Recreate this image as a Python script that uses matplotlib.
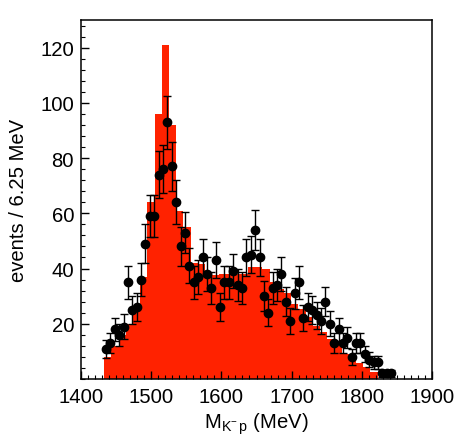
import numpy as np
import matplotlib
matplotlib.use('Agg')
import matplotlib.pyplot as plt
from matplotlib.ticker import MultipleLocator

plt.rcParams['font.family'] = ['Liberation Sans', 'DejaVu Sans']
plt.rcParams['mathtext.fontset'] = 'custom'
plt.rcParams['mathtext.rm'] = 'Liberation Sans'
plt.rcParams['mathtext.it'] = 'Liberation Sans'

# MC histogram (red), ~10.25 MeV bins starting at 1433 MeV
hist_start = 1433.0
hist_width = 10.25
hist_vals = [8, 12, 16, 20, 25, 37, 64, 96, 121, 92,
             61, 55, 42, 41.5, 37.5, 37.5, 38, 38, 38, 38,
             40.5, 40.5, 40, 35, 32.6, 31, 27, 25.4, 22.4, 19.3,
             17, 14.5, 12.7, 9, 7.5, 5.8, 4.3, 2.5]

# data points, 6.25 MeV bins
data_start = 1435.6
data_width = 6.25
data_vals = [11, 13, 18, 16, 19, 35, 25, 26, 36, 49,
             59, 59, 74, 76, 93, 77, 64, 48, 53, 41,
             35, 37, 44, 38, 33, 43, 26, 35, 35, 39,
             34, 33, 44, 45, 54, 44, 30, 24, 33, 34,
             38, 28, 21, 31, 35, 22, 26, 25, 23, 21,
             28, 20, 13, 18, 13, 15, 8, 13, 13, 9,
             7, 6, 6, 2, 2, 2]
data_err = [3.3, 3.6, 4.2, 4.0, 4.4, 5.9, 5.0, 5.1, 6.0, 7.0,
            7.7, 7.7, 8.6, 8.7, 9.6, 8.8, 8.0, 6.9, 7.3, 6.4,
            5.9, 6.1, 6.6, 6.2, 5.7, 6.6, 5.1, 5.9, 5.9, 6.2,
            5.8, 5.7, 6.6, 6.7, 7.3, 6.6, 5.5, 4.9, 5.7, 5.8,
            6.2, 5.3, 4.6, 5.6, 5.9, 4.7, 5.1, 5.0, 4.8, 4.6,
            5.3, 4.5, 3.6, 4.2, 3.6, 3.9, 2.8, 3.6, 3.6, 3.0,
            2.6, 2.4, 2.4, 1.4, 1.4, 1.4]

edges = hist_start + hist_width * np.arange(len(hist_vals) + 1)
xs = data_start + data_width * np.arange(len(data_vals))

fig = plt.figure(figsize=(4.54, 4.39), dpi=100)
ax = fig.add_axes([81/454, 1 - 380/439, (432 - 81)/454, (380 - 21)/439])

ax.stairs(hist_vals, edges, fill=True, color='#ff2200', linewidth=0)
ax.errorbar(xs, data_vals, yerr=data_err, fmt='o', color='black',
            markersize=6.0, elinewidth=1.0, capsize=3.2, capthick=1.0)

ax.set_xlim(1400, 1900)
ax.set_ylim(0, 130)
ax.xaxis.set_major_locator(MultipleLocator(100))
ax.xaxis.set_minor_locator(MultipleLocator(10))
ax.yaxis.set_minor_locator(MultipleLocator(4))
ax.set_yticks([20, 40, 60, 80, 100, 120])
ax.tick_params(which='both', direction='in', top=False, right=False, labelsize=14.6)
ax.tick_params(which='major', length=5.8, width=1.0)
ax.tick_params(which='minor', length=2.9, width=0.8)
ax.tick_params(axis='x', pad=6)
ax.tick_params(axis='y', pad=5)
for s in ax.spines.values():
    s.set_linewidth(1.1)

ax.set_xlabel(r'M$_{\mathrm{K^{-}\,p}}$ (MeV)', fontsize=14.6, labelpad=3)
ax.set_ylabel('events / 6.25 MeV', fontsize=14.6, labelpad=9)

fig.savefig('out.png', dpi=100)
